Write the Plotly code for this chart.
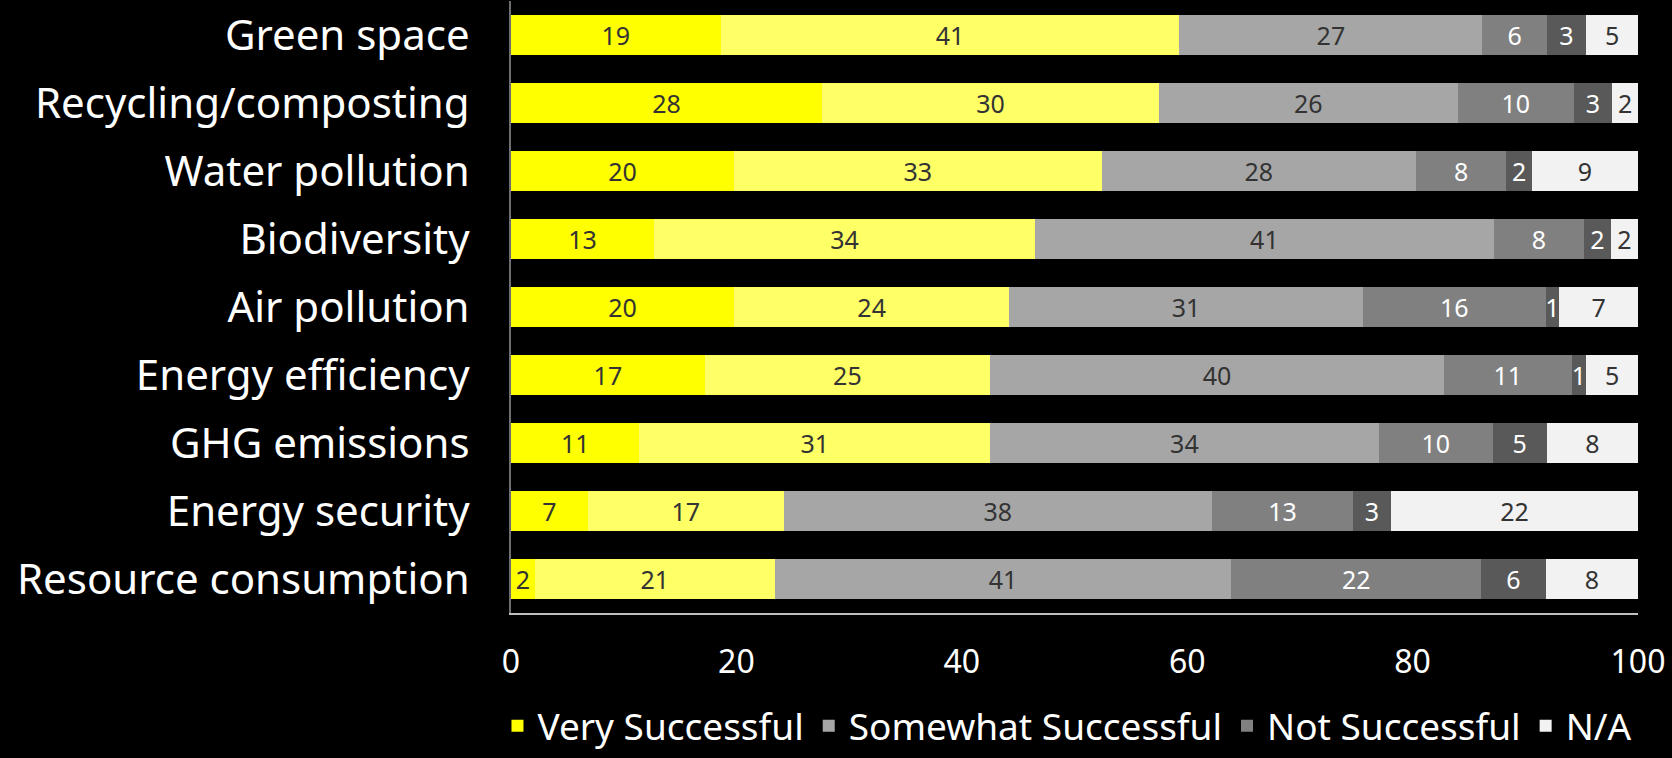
import plotly.graph_objects as go

categories = ["Green space", "Recycling/composting", "Water pollution", "Biodiversity",
              "Air pollution", "Energy efficiency", "GHG emissions", "Energy security",
              "Resource consumption"]

# segment widths (percent)
very_successful   = [18.6, 27.6, 19.8, 12.7, 19.8, 17.2, 11.4, 6.8, 2.1]
successful        = [40.7, 29.9, 32.6, 33.8, 24.4, 25.3, 31.1, 17.4, 21.3]
somewhat          = [26.9, 26.5, 27.9, 40.7, 31.4, 40.3, 34.5, 38.0, 40.5]
not_very          = [5.7, 10.3, 8.0, 8.0, 16.2, 11.3, 10.1, 12.5, 22.2]
not_successful    = [3.5, 3.4, 2.3, 2.4, 1.2, 1.3, 4.8, 3.4, 5.7]
na                = [4.6, 2.3, 9.4, 2.4, 7.0, 4.6, 8.1, 21.9, 8.2]

# printed labels
lbl_very     = [19, 28, 20, 13, 20, 17, 11, 7, 2]
lbl_succ     = [41, 30, 33, 34, 24, 25, 31, 17, 21]
lbl_somewhat = [27, 26, 28, 41, 31, 40, 34, 38, 41]
lbl_notvery  = [6, 10, 8, 8, 16, 11, 10, 13, 22]
lbl_not      = [3, 3, 2, 2, 1, 1, 5, 3, 6]
lbl_na       = [5, 2, 9, 2, 7, 5, 8, 22, 8]

x_ticks = [0, 20, 40, 60, 80, 100]

FONT = "Noto Sans"

series = [
    ("Very Successful", very_successful, lbl_very, "#FFFF00", "#333333", True),
    ("Successful", successful, lbl_succ, "#FFFF66", "#333333", False),
    ("Somewhat Successful", somewhat, lbl_somewhat, "#A6A6A6", "#333333", True),
    ("Not Successful", not_very, lbl_notvery, "#808080", "#FFFFFF", True),
    ("Not at all Successful", not_successful, lbl_not, "#595959", "#FFFFFF", False),
    ("N/A", na, lbl_na, "#F2F2F2", "#333333", True),
]

fig = go.Figure()
for name, vals, lbls, color, tcolor, show in series:
    fig.add_trace(go.Bar(
        y=categories, x=vals, name=name, orientation="h",
        marker=dict(color=color, line=dict(width=0)),
        text=[str(v) for v in lbls], textposition="inside",
        insidetextanchor="middle", textangle=0, constraintext="none",
        textfont=dict(family=FONT, size=25, color=tcolor),
        showlegend=show, hoverinfo="x+y+name",
    ))

fig.update_layout(
    barmode="stack", bargap=0.4,
    width=1672, height=758,
    paper_bgcolor="#000000", plot_bgcolor="#000000",
    margin=dict(l=511, r=34, t=1, b=131),
    font=dict(family=FONT, color="#FFFFFF"),
    xaxis=dict(range=[0, 100], tickvals=x_ticks, showgrid=False, zeroline=False,
               showline=True, linecolor="#BFBFBF", linewidth=2, automargin=False,
               tickfont=dict(size=32, color="#FFFFFF"), ticks="", ticklabelstandoff=20),
    yaxis=dict(categoryorder="array", categoryarray=categories[::-1],
               showgrid=False, zeroline=False, showline=True, linecolor="#6E6E6E",
               linewidth=2, ticks="", ticklabelstandoff=31, automargin=False,
               tickfont=dict(size=42, color="#FFFFFF")),
    legend=dict(orientation="h", x=-0.012, xanchor="left", y=-0.185, yanchor="middle",
                font=dict(size=37, color="#FFFFFF"), traceorder="normal",
                itemwidth=30, tracegroupgap=0, bgcolor="rgba(0,0,0,0)"),
)

fig.write_html(
    "out.html",
    config={"displayModeBar": False},
    post_script="document.body.style.margin='0';document.body.style.background='#000';"
                "document.body.style.overflow='hidden';",
)
